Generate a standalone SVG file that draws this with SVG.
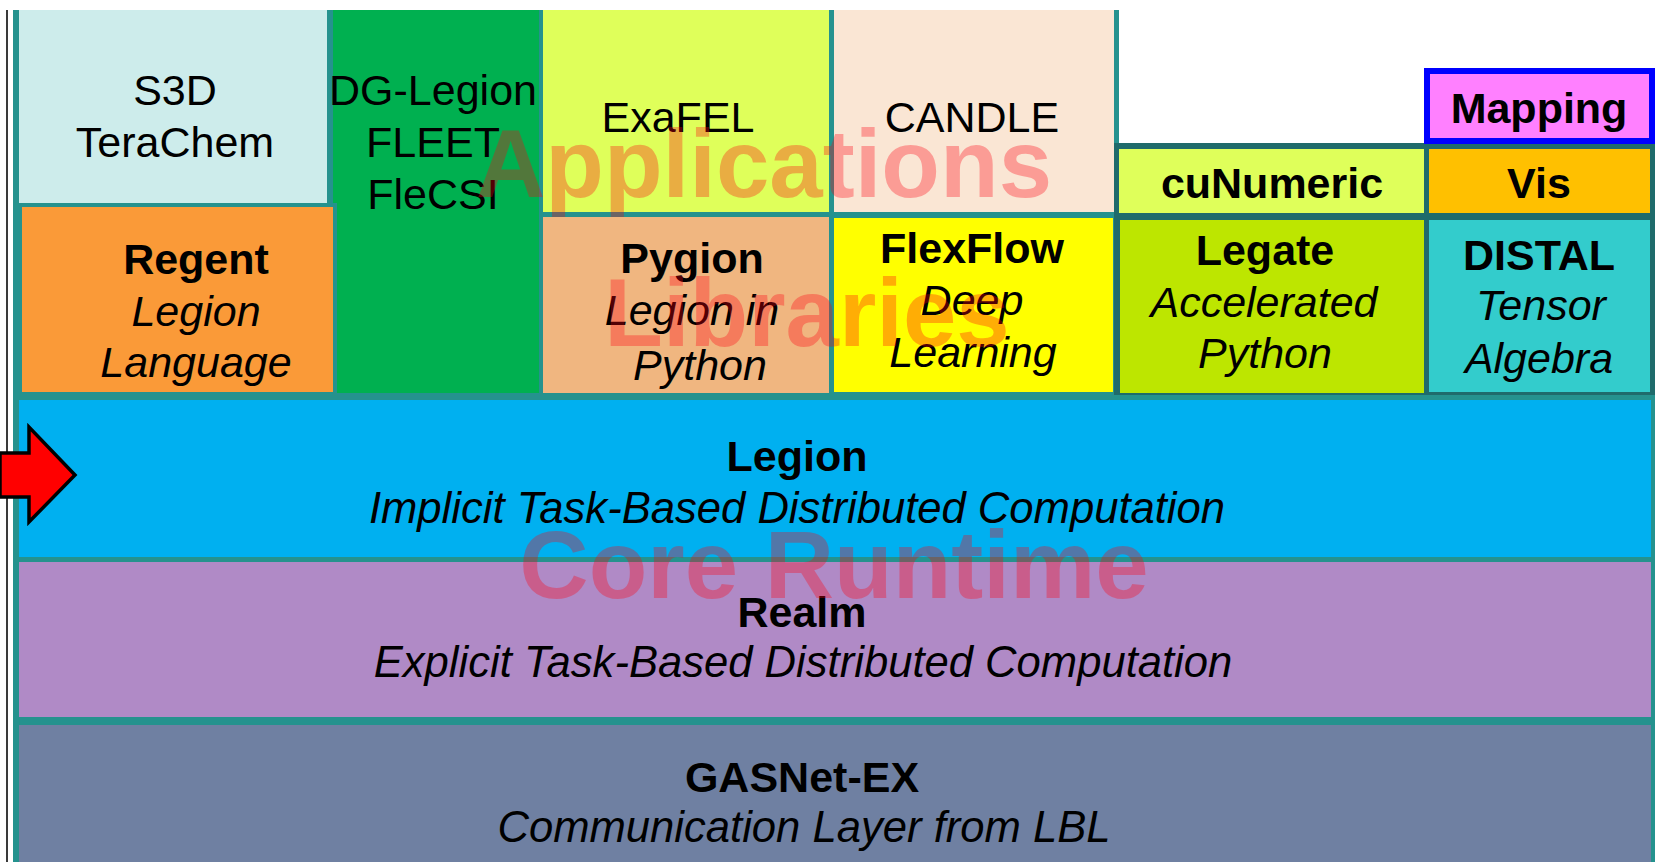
<svg xmlns="http://www.w3.org/2000/svg" width="1655" height="862" viewBox="0 0 1655 862">
<style>
text{font-family:"Liberation Sans",Arial,sans-serif;font-size:43px;fill:#000;text-anchor:middle}
.b{font-weight:bold}
.i{font-style:italic}
.l{font-size:43.6px}
.wm{font-weight:bold;font-size:96px;fill:#ff0010;fill-opacity:0.32}
</style>
<rect x="0" y="0" width="1655" height="862" fill="#ffffff"/>
<line x1="7" y1="10" x2="7" y2="862" stroke="#3a3a3a" stroke-width="2"/>
<g id="frame">
<path d="M13,10 H1119 V143 H1655 V862 H13 Z" fill="#25928e"/>
<rect x="1114" y="143" width="541" height="252" fill="#1f6b6b"/>
</g>
<g id="s3d">
<rect x="19" y="10" width="308" height="193" fill="#cdeceb"/>
<text x="175" y="105">S3D</text>
<text x="175" y="157">TeraChem</text>
</g>
<g id="dglegion">
<rect x="333" y="10" width="206" height="383" fill="#00b050"/>
<text x="433" y="105">DG-Legion</text>
<text x="433" y="157">FLEET</text>
<text x="433" y="209">FleCSI</text>
</g>
<g id="regent">
<rect x="327" y="203" width="10" height="190" fill="#25928e"/>
<rect x="22" y="207" width="311" height="185" fill="#fa9a38"/>
<text class="b" x="196" y="274">Regent</text>
<text class="i" x="196" y="326">Legion</text>
<text class="i" x="196" y="377">Language</text>
</g>
<g id="exafel">
<rect x="543" y="10" width="286" height="202" fill="#dfff5a"/>
<text x="678" y="132">ExaFEL</text>
</g>
<g id="candle">
<rect x="834" y="10" width="280" height="202" fill="#fae6d4"/>
<text x="972" y="132">CANDLE</text>
</g>
<g id="pygion">
<rect x="543" y="217" width="286" height="176" fill="#f0b680"/>
<text class="b" x="692" y="273">Pygion</text>
<text class="i" x="692" y="325">Legion in</text>
<text class="i" x="700" y="380">Python</text>
</g>
<g id="flexflow">
<rect x="834" y="218" width="279" height="174" fill="#ffff00"/>
<text class="b" x="972" y="263">FlexFlow</text>
<text class="i" x="972" y="315">Deep</text>
<text class="i" x="973" y="367">Learning</text>
</g>
<g id="cunumeric">
<rect x="1119" y="149" width="305" height="64" fill="#dfff5a"/>
<text class="b" x="1272" y="198">cuNumeric</text>
</g>
<g id="vis">
<rect x="1429" y="149" width="221" height="64" fill="#ffc000"/>
<text class="b" x="1539" y="198">Vis</text>
</g>
<g id="mapping">
<rect x="1427" y="71" width="225" height="70" fill="#ff80ff" stroke="#0000ff" stroke-width="6"/>
<text class="b" x="1539" y="123">Mapping</text>
</g>
<g id="legate">
<rect x="1120" y="220" width="304" height="173" fill="#bde600"/>
<text class="b" x="1265" y="265">Legate</text>
<text class="i" x="1264" y="317">Accelerated</text>
<text class="i" x="1265" y="368">Python</text>
</g>
<g id="distal">
<rect x="1429" y="220" width="221" height="172" fill="#33cccc"/>
<text class="b" x="1539" y="270">DISTAL</text>
<text class="i" x="1541" y="320">Tensor</text>
<text class="i" x="1539" y="373">Algebra</text>
</g>
<g id="legion">
<rect x="19" y="400" width="1632" height="157" fill="#00b0f0"/>
<text class="b" x="797" y="471">Legion</text>
<text class="i l" x="797" y="523">Implicit Task-Based Distributed Computation</text>
</g>
<g id="realm">
<rect x="19" y="562" width="1632" height="155" fill="#b08ac6"/>
<text class="b" x="802" y="627">Realm</text>
<text class="i l" x="803" y="677">Explicit Task-Based Distributed Computation</text>
</g>
<g id="gasnet">
<rect x="19" y="725" width="1632" height="137" fill="#6f80a2"/>
<text class="b" x="802" y="792">GASNet-EX</text>
<text class="i l" x="804" y="842">Communication Layer from LBL</text>
</g>
<g id="connectors">
<polygon points="0,453 29,453 29,427 75,475 29,522 29,497 0,497" fill="#ff0000" stroke="#000" stroke-width="3.5" stroke-linejoin="miter"/>
</g>
<g id="watermarks">
<text class="wm" x="764" y="197">Applications</text>
<text class="wm" x="807" y="346">Libraries</text>
<text class="wm" x="834" y="598">Core Runtime</text>
</g>
</svg>
